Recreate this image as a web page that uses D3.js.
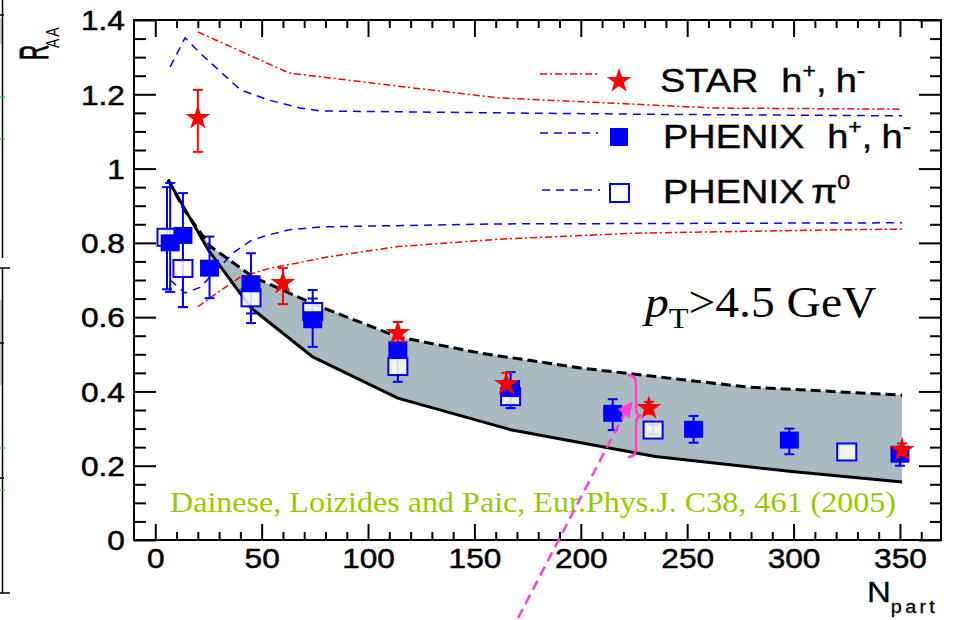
<!DOCTYPE html>
<html><head><meta charset="utf-8">
<script src="https://cdn.jsdelivr.net/npm/d3@7"></script>
<style>body{margin:0;background:#fff;} svg{display:block;}</style>
</head><body>
<svg id="c" width="959" height="620"></svg>
<script>
// ---------- data ----------
const xTicks = [0, 50, 100, 150, 200, 250, 300, 350];
const xMinor = [10,20,30,40,60,70,80,90,110,120,130,140,160,170,180,190,210,220,230,240,260,270,280,290,310,320,330,340,360];
const yTicks = [0, 0.2, 0.4, 0.6, 0.8, 1, 1.2, 1.4];
const yTickLabels = ["0", "0.2", "0.4", "0.6", "0.8", "1", "1.2", "1.4"];
const yMinor = [0.05,0.1,0.15,0.25,0.3,0.35,0.45,0.5,0.55,0.65,0.7,0.75,0.85,0.9,0.95,1.05,1.1,1.15,1.25,1.3,1.35];

// [Npart, RAA, errHigh, errLow]
const starData = [[20,1.136,1.212,1.045],[60,0.692,0.732,0.635],[114,0.557,0.587,0.512],[165,0.42,0.45,0.39],[232,0.355,0.372,0.34],[351,0.242,0.26,0.225]];
const phenixH = [[7,0.80,0.961,0.668],[13,0.82,0.934,0.627],[25.5,0.732,0.817,0.651],[45,0.69,0.772,0.61],[74,0.593,0.673,0.52],[114,0.512,0.53,0.49],[167,0.408,0.452,0.37],[215,0.341,0.379,0.296],[253,0.298,0.334,0.262],[298,0.269,0.30,0.231],[350,0.231,0.245,0.20]];
const phenixPi0 = [[5.5,0.815,0.95,0.675],[13,0.731,0.83,0.627],[45,0.652,0.69,0.584],[74,0.615,0.65,0.59],[114,0.467,0.49,0.426],[167,0.386,0.41,0.355],[234,0.296,0.31,0.285],[325,0.237,0.237,0.237]];

// model curves
const bandUpper = [[6,0.97],[14,0.885],[26,0.79],[46,0.708],[78,0.627],[114,0.547],[153,0.503],[200,0.463],[235,0.44],[278,0.412],[351,0.39]];
const bandLower = [[6,0.97],[25,0.78],[45,0.625],[74,0.493],[114,0.382],[167,0.297],[235,0.225],[298,0.185],[351,0.156]];
const starUpper = [[20,1.368],[37,1.324],[63,1.257],[78,1.247],[114,1.222],[162,1.19],[212,1.177],[262,1.163],[351,1.16]];
const starLower = [[20,0.628],[29,0.665],[40,0.708],[54,0.732],[67,0.746],[78,0.759],[87,0.767],[114,0.79],[162,0.81],[225,0.826],[318,0.835],[351,0.837]];
const phenixUpper = [[7,1.274],[14,1.352],[21,1.311],[40,1.212],[53,1.185],[68,1.163],[78,1.155],[162,1.15],[234,1.146],[351,1.142]];
const phenixLower = [[7,0.70],[14,0.665],[21,0.68],[37,0.775],[45,0.806],[53,0.821],[63,0.835],[78,0.843],[162,0.851],[351,0.854]];

const legendLabels = ["STAR", "PHENIX", "PHENIX"];
const brace = {x: 222.2, top: 0.444, mid: 0.334, bottom: 0.2235};
const arrow = {from: [170.5, -0.21], to: [217.3, 0.352]};

// ---------- setup ----------
const svg = d3.select("#c");
const SANS = "'Liberation Sans', Arial, Helvetica, sans-serif";
const SERIF = "'Liberation Serif', 'Times New Roman', serif";
const x = d3.scaleLinear().domain([-10, 369.3]).range([134, 941]);
const y = d3.scaleLinear().domain([0, 1.4]).range([540, 20]);
const RED = "#ff0000", BLUE = "#0000ff", MAG = "#ff40c8";

// left-edge clutter from neighbouring slide
const lg = svg.append("g").attr("stroke", "#000").attr("stroke-width", 1.5);
lg.append("rect").attr("x", 0).attr("y", 18).attr("width", 3).attr("height", 26).attr("fill", "#d0d0d0").attr("stroke", "none");
lg.append("rect").attr("x", 0).attr("y", 300).attr("width", 3).attr("height", 85).attr("fill", "#d0d0d0").attr("stroke", "none");
lg.append("line").attr("x1", 2.5).attr("x2", 2.5).attr("y1", 0).attr("y2", 258);
lg.append("line").attr("x1", 2.5).attr("x2", 2.5).attr("y1", 268).attr("y2", 593);
lg.append("line").attr("x1", 0).attr("x2", 10).attr("y1", 268).attr("y2", 268);
lg.append("line").attr("x1", 0).attr("x2", 10).attr("y1", 593).attr("y2", 593);
lg.append("line").attr("x1", 0).attr("x2", 4).attr("y1", 15).attr("y2", 15);
lg.append("line").attr("x1", 0).attr("x2", 4).attr("y1", 343).attr("y2", 343);
lg.append("line").attr("x1", 0).attr("x2", 4).attr("y1", 478).attr("y2", 478);
[97, 139, 448, 490].forEach(v => lg.append("line").attr("x1", 0).attr("x2", 5).attr("y1", v).attr("y2", v).attr("stroke", "#22cc22").attr("stroke-width", 1));

const line = d3.line().x(d => x(d[0])).y(d => y(d[1]));

// band fill
const poly = bandUpper.concat(bandLower.slice().reverse());
svg.append("path").attr("d", line(poly) + "Z").attr("fill", "#aabac1").attr("stroke", "none");

// model curves
const dashDot = "7,3,2,3";
svg.append("path").attr("d", line(starUpper)).attr("fill", "none").attr("stroke", RED).attr("stroke-width", 1.5).attr("stroke-dasharray", dashDot);
svg.append("path").attr("d", line(starLower)).attr("fill", "none").attr("stroke", RED).attr("stroke-width", 1.5).attr("stroke-dasharray", dashDot);
svg.append("path").attr("d", line(phenixUpper)).attr("fill", "none").attr("stroke", BLUE).attr("stroke-width", 1.5).attr("stroke-dasharray", "8,6");
svg.append("path").attr("d", line(phenixLower)).attr("fill", "none").attr("stroke", BLUE).attr("stroke-width", 1.5).attr("stroke-dasharray", "8,6");

// band edges
svg.append("path").attr("d", line(bandLower)).attr("fill", "none").attr("stroke", "#000").attr("stroke-width", 3);
svg.append("path").attr("d", line(bandUpper)).attr("fill", "none").attr("stroke", "#000").attr("stroke-width", 3).attr("stroke-dasharray", "10,5");

// axes
function styleAxis(g) {
  g.select(".domain").remove();
  g.selectAll(".tick line").attr("stroke", "#000").attr("stroke-width", 2);
}
const txt = (sel) => sel.attr("font-family", SANS).attr("font-size", 28).attr("fill", "#000").attr("stroke", "#000").attr("stroke-width", 0.5);

const gx = svg.append("g").attr("transform", "translate(0,540)")
  .call(d3.axisBottom(x).tickValues(xTicks).tickSize(-16).tickSizeOuter(0).tickPadding(8).tickFormat(d3.format("d")));
styleAxis(gx);
gx.selectAll(".tick text").call(txt).attr("transform", "scale(1.13,1)");
const gxm = svg.append("g").attr("transform", "translate(0,540)")
  .call(d3.axisBottom(x).tickValues(xMinor).tickSize(-8).tickSizeOuter(0).tickFormat(""));
styleAxis(gxm);
const gt = svg.append("g").attr("transform", "translate(0,20)")
  .call(d3.axisTop(x).tickValues(xTicks).tickSize(-17).tickSizeOuter(0).tickFormat(""));
styleAxis(gt);
const gtm = svg.append("g").attr("transform", "translate(0,20)")
  .call(d3.axisTop(x).tickValues(xMinor).tickSize(-8).tickSizeOuter(0).tickFormat(""));
styleAxis(gtm);

const gy = svg.append("g").attr("transform", "translate(134,0)")
  .call(d3.axisLeft(y).tickValues(yTicks).tickSize(-22).tickSizeOuter(0).tickPadding(8).tickFormat((d, i) => yTickLabels[i]));
styleAxis(gy);
gy.selectAll(".tick text").call(txt).attr("transform", "scale(1.13,1)").attr("dy", "0.35em");
const gym = svg.append("g").attr("transform", "translate(134,0)")
  .call(d3.axisLeft(y).tickValues(yMinor).tickSize(-12).tickSizeOuter(0).tickFormat(""));
styleAxis(gym);
const gr = svg.append("g").attr("transform", "translate(941,0)")
  .call(d3.axisRight(y).tickValues(yTicks).tickSize(-22).tickSizeOuter(0).tickFormat(""));
styleAxis(gr);
const grm = svg.append("g").attr("transform", "translate(941,0)")
  .call(d3.axisRight(y).tickValues(yMinor).tickSize(-11).tickSizeOuter(0).tickFormat(""));
styleAxis(grm);

// frame
svg.append("rect").attr("x", x(-10)).attr("y", y(1.4)).attr("width", x(369.3) - x(-10)).attr("height", y(0) - y(1.4))
  .attr("fill", "none").attr("stroke", "#000").attr("stroke-width", 2);

// error bars
function errBars(data, color) {
  const g = svg.append("g").attr("stroke", color).attr("stroke-width", 2);
  data.filter(d => d[2] !== d[3]).forEach(d => {
    g.append("line").attr("x1", x(d[0])).attr("x2", x(d[0])).attr("y1", y(d[2])).attr("y2", y(d[3]));
    [d[2], d[3]].forEach(v => g.append("line").attr("x1", x(d[0]) - 5).attr("x2", x(d[0]) + 5).attr("y1", y(v)).attr("y2", y(v)));
  });
}
errBars(phenixPi0, BLUE);
errBars(phenixH, BLUE);
errBars(starData, RED);

// markers
svg.append("g").selectAll("rect").data(phenixPi0).join("rect")
  .attr("x", d => x(d[0]) - 9.5).attr("y", d => y(d[1]) - 8.5).attr("width", 19).attr("height", 17)
  .attr("fill", "#fff").attr("fill-opacity", 0.85).attr("stroke", BLUE).attr("stroke-width", 2);
svg.append("g").selectAll("rect").data(phenixH).join("rect")
  .attr("x", d => x(d[0]) - 9.5).attr("y", d => y(d[1]) - 8.5).attr("width", 19).attr("height", 17)
  .attr("fill", BLUE);
const star = d3.symbol().type(d3.symbolStar).size(190);
svg.append("g").selectAll("path").data(starData).join("path")
  .attr("transform", d => `translate(${x(d[0])},${y(d[1])})`).attr("d", star).attr("fill", RED);

// legend
const leg = svg.append("g");
leg.append("line").attr("x1", 540).attr("x2", 598).attr("y1", 74).attr("y2", 74).attr("stroke", RED).attr("stroke-width", 1.5).attr("stroke-dasharray", dashDot);
leg.append("line").attr("x1", 540).attr("x2", 598).attr("y1", 133).attr("y2", 133).attr("stroke", BLUE).attr("stroke-width", 1.5).attr("stroke-dasharray", "8,6");
leg.append("line").attr("x1", 542).attr("x2", 600).attr("y1", 190).attr("y2", 190).attr("stroke", BLUE).attr("stroke-width", 1.5).attr("stroke-dasharray", "8,6");
leg.append("path").attr("transform", "translate(619,81)").attr("d", star).attr("fill", RED);
leg.append("rect").attr("x", 610).attr("y", 128).attr("width", 18).attr("height", 18).attr("fill", BLUE);
leg.append("rect").attr("x", 610).attr("y", 184).attr("width", 19).attr("height", 18).attr("fill", "none").attr("stroke", BLUE).attr("stroke-width", 2);

function legText(xp, yp, parts) {
  const t = leg.append("text").attr("transform", `translate(${xp},${yp}) scale(1.15,1)`)
    .attr("font-family", SANS).attr("font-size", 33).attr("fill", "#000").attr("stroke", "#000").attr("stroke-width", 0.4);
  parts.forEach(p => {
    const s = t.append("tspan").text(p.t);
    if (p.dx) s.attr("dx", p.dx);
    if (p.dy) s.attr("dy", p.dy);
    if (p.fs) s.attr("font-size", p.fs);
  });
}
legText(660, 92, [{t: legendLabels[0]}, {t: "h", dx: 20}, {t: "+", fs: 20, dy: -14}, {t: ",", dy: 14}, {t: "h", dx: 8}, {t: "-", fs: 22, dy: -14}]);
legText(663, 148, [{t: legendLabels[1]}, {t: "h", dx: 20}, {t: "+", fs: 20, dy: -14}, {t: ",", dy: 14}, {t: "h", dx: 8}, {t: "-", fs: 22, dy: -14}]);
legText(663, 203, [{t: legendLabels[2]}, {t: "π", dx: 6}, {t: "0", fs: 20, dy: -14}]);

// pT label
const pt = svg.append("text").attr("transform", "translate(645,317) scale(1.08,1)")
  .attr("font-family", SERIF).attr("font-size", 44).attr("fill", "#000");
pt.append("tspan").attr("font-style", "italic").text("p");
pt.append("tspan").attr("font-size", 30).attr("dy", 11).text("T");
pt.append("tspan").attr("dy", -11).text(">4.5 GeV");

// citation
svg.append("text").attr("x", 170).attr("y", 512).attr("font-family", SERIF).attr("font-size", 30)
  .attr("fill", "#9ac800").attr("textLength", 726).attr("lengthAdjust", "spacingAndGlyphs")
  .text("Dainese, Loizides and Paic, Eur.Phys.J. C38, 461 (2005)");

// axis titles
svg.append("text").attr("transform", "translate(48,60) rotate(-90) scale(1,1.9)")
  .attr("font-family", SANS).attr("font-size", 21).attr("fill", "#000").attr("stroke", "#000").attr("stroke-width", 0.5).text("R");
svg.append("text").attr("transform", "translate(59,48) rotate(-90) scale(1,1.3)")
  .attr("font-family", SANS).attr("font-size", 14).attr("letter-spacing", 2).attr("fill", "#000").text("AA");
const np = svg.append("text").attr("transform", "translate(867,602) scale(1.1,1)")
  .attr("font-family", SANS).attr("font-size", 30).attr("fill", "#000").attr("stroke", "#000").attr("stroke-width", 0.3);
np.append("tspan").text("N");
np.append("tspan").attr("font-size", 18).attr("dy", 11).attr("letter-spacing", 3).text("part");

// magenta annotation: brace + arrow
const bx = x(brace.x), bt = y(brace.top), bm = y(brace.mid), bb = y(brace.bottom), w = 8, tip = 15;
svg.append("path").attr("d",
  `M${bx},${bt} Q${bx + w},${bt} ${bx + w},${bt + 9} L${bx + w},${bm - 6} Q${bx + w},${bm} ${bx + tip},${bm} Q${bx + w},${bm} ${bx + w},${bm + 6} L${bx + w},${bb - 9} Q${bx + w},${bb} ${bx},${bb}`)
  .attr("fill", "none").attr("stroke", MAG).attr("stroke-width", 2.5);
const ax0 = x(arrow.from[0]), ay0 = y(arrow.from[1]), ax1 = x(arrow.to[0]), ay1 = y(arrow.to[1]);
svg.append("line").attr("x1", ax0).attr("y1", ay0).attr("x2", ax1 + 7).attr("y2", ay1 + 4)
  .attr("stroke", MAG).attr("stroke-width", 2.5).attr("stroke-dasharray", "10,6");
svg.append("path").attr("d", `M${ax1},${ay1} L${ax1 + 15},${ay1 - 8} L${ax1 + 12},${ay1 + 9} Z`).attr("fill", MAG);
</script>
</body></html>
